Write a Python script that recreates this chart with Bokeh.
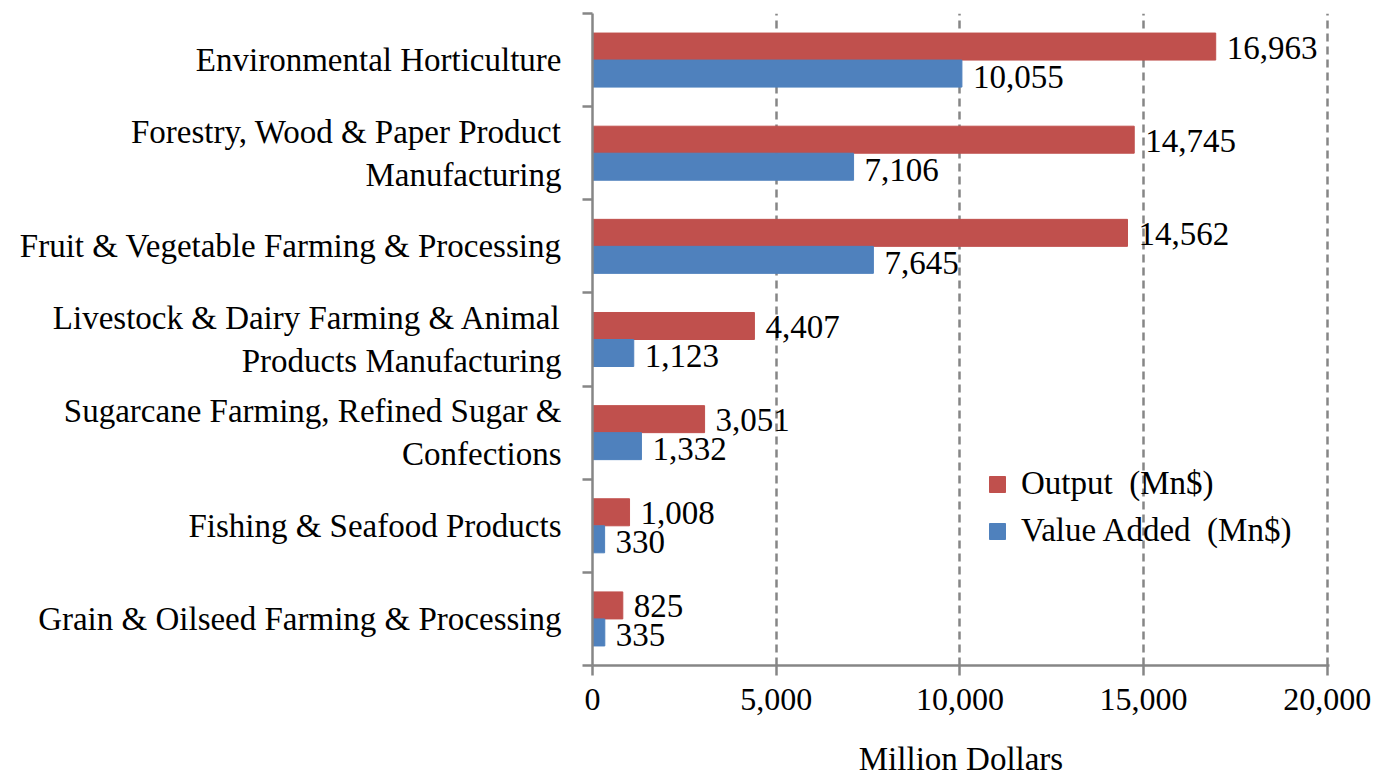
import numpy as np
from bokeh.plotting import figure
from bokeh.models import FixedTicker, NumeralTickFormatter, Legend, LegendItem, ColumnDataSource
from bokeh.core.properties import value
from bokeh.embed import file_html
from bokeh.resources import INLINE

categories = [
    "Environmental Horticulture",
    "Forestry, Wood & Paper Product\nManufacturing",
    "Fruit & Vegetable Farming & Processing",
    "Livestock & Dairy Farming & Animal\nProducts Manufacturing",
    "Sugarcane Farming, Refined Sugar &\nConfections",
    "Fishing & Seafood Products",
    "Grain & Oilseed Farming & Processing",
]
output_mn = [16963, 14745, 14562, 4407, 3051, 1008, 825]
value_added_mn = [10055, 7106, 7645, 1123, 1332, 330, 335]
x_ticks = [0, 5000, 10000, 15000, 20000]
x_title = "Million Dollars"

FONT = "Liberation Serif"
RED = "#C0504D"
BLUE = "#4F81BD"
GRAY = "#868686"
FS = "33px"

n = len(categories)
pos = np.arange(n)[::-1] + 0.5
bar_h = 0.29

src_out = ColumnDataSource(dict(y=pos + bar_h / 2, x=output_mn,
                                lab=[f"{v:,}" for v in output_mn]))
src_va = ColumnDataSource(dict(y=pos - bar_h / 2, x=value_added_mn,
                               lab=[f"{v:,}" for v in value_added_mn]))

p = figure(width=1371, height=779, x_range=(0, 20060), y_range=(0, n),
           output_backend="svg", toolbar_location=None,
           min_border_left=592, min_border_right=42, min_border_top=13, min_border_bottom=113)
p.outline_line_color = None
p.background_fill_color = "white"
p.border_fill_color = "white"

r_out = p.hbar(y="y", right="x", left=0, height=bar_h, source=src_out, color=RED)
r_va = p.hbar(y="y", right="x", left=0, height=bar_h, source=src_va, color=BLUE)

p.text(x="x", y="y", text="lab", source=src_out, x_offset=11, y_offset=1,
       text_baseline="middle", text_align="left",
       text_font=value(FONT), text_font_size=FS, text_color="black")
p.text(x="x", y="y", text="lab", source=src_va, x_offset=11, y_offset=3,
       text_baseline="middle", text_align="left",
       text_font=value(FONT), text_font_size=FS, text_color="black")

# x axis
p.xaxis.ticker = FixedTicker(ticks=x_ticks)
p.xaxis.formatter = NumeralTickFormatter(format="0,0")
p.xaxis.axis_label = x_title
p.xaxis.axis_label_text_font = FONT
p.xaxis.axis_label_text_font_style = "normal"
p.xaxis.axis_label_text_font_size = FS
p.xaxis.axis_label_standoff = 28
p.xaxis.major_label_text_font = FONT
p.xaxis.major_label_text_font_size = "32px"
p.xaxis.major_label_standoff = 13
p.xaxis.major_tick_out = 10
p.xaxis.major_tick_in = 0
p.xaxis.minor_tick_line_color = None

# y axis
p.yaxis.ticker = FixedTicker(ticks=list(pos), minor_ticks=list(range(n + 1)))
p.yaxis.major_label_overrides = {float(y): c for y, c in zip(pos, categories)}
p.yaxis.major_label_text_font = FONT
p.yaxis.major_label_text_font_size = FS
p.yaxis.major_label_standoff = 21
p.yaxis.major_tick_out = 0
p.yaxis.major_tick_in = 0
p.yaxis.minor_tick_out = 10
p.yaxis.minor_tick_in = 0

for ax in (p.xaxis, p.yaxis):
    ax.axis_line_color = GRAY
    ax.axis_line_width = 2.5
    ax.major_tick_line_color = GRAY
    ax.major_tick_line_width = 2.5
    ax.minor_tick_line_width = 2.5
    ax.major_label_text_color = "black"
    ax.axis_label_text_color = "black"
p.yaxis.minor_tick_line_color = GRAY

p.xgrid.ticker = FixedTicker(ticks=x_ticks[1:])
p.xgrid.grid_line_color = GRAY
p.xgrid.grid_line_width = 2.5
p.xgrid.grid_line_dash = "8 5"
p.ygrid.grid_line_color = None

legend = Legend(items=[LegendItem(label="Output  (Mn$)", renderers=[r_out]),
                       LegendItem(label="Value Added  (Mn$)", renderers=[r_va])],
                location=(395, 116), orientation="vertical")
legend.border_line_color = None
legend.background_fill_alpha = 0
legend.padding = 0
legend.margin = 0
legend.glyph_width = 20
legend.glyph_height = 20
legend.label_height = 32
legend.spacing = 10
legend.label_standoff = 14
legend.label_text_font = FONT
legend.label_text_font_size = FS
legend.label_text_color = "black"
p.add_layout(legend, "center")

open("out.html", "w").write(file_html(p, INLINE))
